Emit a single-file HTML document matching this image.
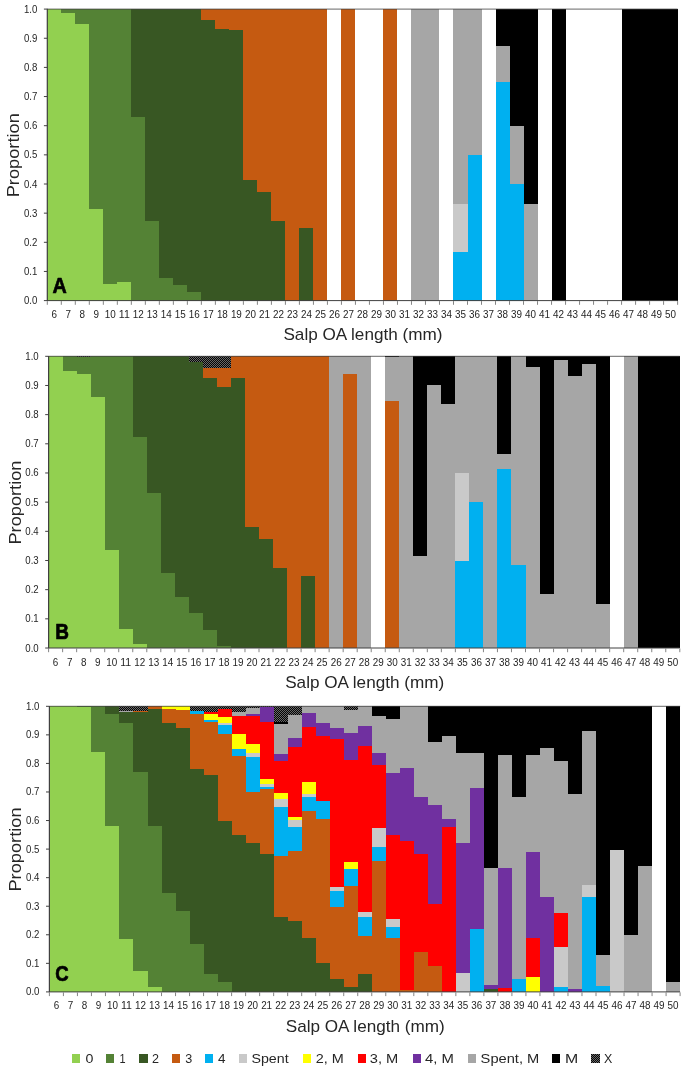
<!DOCTYPE html>
<html><head><meta charset="utf-8"><title>Salp OA length proportions</title>
<style>html,body{margin:0;padding:0;background:#fff}svg{display:block}text{font-family:"Liberation Sans",sans-serif;fill:#262626}</style>
</head><body>
<svg width="685" height="1071" viewBox="0 0 685 1071">
<defs><pattern id="xp" width="2" height="2" patternUnits="userSpaceOnUse"><rect width="2" height="2" fill="#050505"/><rect x="0" y="0" width="1" height="1" fill="#686868"/><rect x="1" y="1" width="1" height="1" fill="#686868"/></pattern></defs>
<rect width="685" height="1071" fill="#fff"/>
<g shape-rendering="crispEdges">
<rect x="47.3" y="9.1" width="14.01" height="291.5" fill="#92D050"/>
<rect x="61.31" y="12.6" width="14.01" height="288" fill="#92D050"/>
<rect x="61.31" y="9.1" width="14.01" height="3.5" fill="#548235"/>
<rect x="75.31" y="23.68" width="14.01" height="276.93" fill="#92D050"/>
<rect x="75.31" y="9.1" width="14.01" height="14.57" fill="#548235"/>
<rect x="89.32" y="209.36" width="14.01" height="91.24" fill="#92D050"/>
<rect x="89.32" y="9.1" width="14.01" height="200.26" fill="#548235"/>
<rect x="103.33" y="283.69" width="14.01" height="16.91" fill="#92D050"/>
<rect x="103.33" y="9.1" width="14.01" height="274.59" fill="#548235"/>
<rect x="117.33" y="281.94" width="14.01" height="18.66" fill="#92D050"/>
<rect x="117.33" y="9.1" width="14.01" height="272.84" fill="#548235"/>
<rect x="131.34" y="116.66" width="14.01" height="183.94" fill="#548235"/>
<rect x="131.34" y="9.1" width="14.01" height="107.56" fill="#385723"/>
<rect x="145.35" y="221.02" width="14.01" height="79.58" fill="#548235"/>
<rect x="145.35" y="9.1" width="14.01" height="211.92" fill="#385723"/>
<rect x="159.35" y="277.86" width="14.01" height="22.74" fill="#548235"/>
<rect x="159.35" y="9.1" width="14.01" height="268.76" fill="#385723"/>
<rect x="173.36" y="285.44" width="14.01" height="15.16" fill="#548235"/>
<rect x="173.36" y="9.1" width="14.01" height="276.34" fill="#385723"/>
<rect x="187.37" y="292.15" width="14.01" height="8.45" fill="#548235"/>
<rect x="187.37" y="9.1" width="14.01" height="283.05" fill="#385723"/>
<rect x="201.37" y="19.89" width="14.01" height="280.71" fill="#385723"/>
<rect x="201.37" y="9.1" width="14.01" height="10.79" fill="#C55A11"/>
<rect x="215.38" y="28.63" width="14.01" height="271.97" fill="#385723"/>
<rect x="215.38" y="9.1" width="14.01" height="19.53" fill="#C55A11"/>
<rect x="229.39" y="29.8" width="14.01" height="270.8" fill="#385723"/>
<rect x="229.39" y="9.1" width="14.01" height="20.7" fill="#C55A11"/>
<rect x="243.39" y="179.63" width="14.01" height="120.97" fill="#385723"/>
<rect x="243.39" y="9.1" width="14.01" height="170.53" fill="#C55A11"/>
<rect x="257.4" y="191.58" width="14.01" height="109.02" fill="#385723"/>
<rect x="257.4" y="9.1" width="14.01" height="182.48" fill="#C55A11"/>
<rect x="271.41" y="221.31" width="14.01" height="79.29" fill="#385723"/>
<rect x="271.41" y="9.1" width="14.01" height="212.21" fill="#C55A11"/>
<rect x="285.41" y="9.1" width="14.01" height="291.5" fill="#C55A11"/>
<rect x="299.42" y="228.02" width="14.01" height="72.58" fill="#385723"/>
<rect x="299.42" y="9.1" width="14.01" height="218.92" fill="#C55A11"/>
<rect x="313.43" y="9.1" width="14.01" height="291.5" fill="#C55A11"/>
<rect x="341.44" y="9.1" width="14.01" height="291.5" fill="#C55A11"/>
<rect x="383.46" y="9.1" width="14.01" height="291.5" fill="#C55A11"/>
<rect x="411.47" y="9.1" width="14.01" height="291.5" fill="#A6A6A6"/>
<rect x="425.48" y="9.1" width="14.01" height="291.5" fill="#A6A6A6"/>
<rect x="453.49" y="252.21" width="14.01" height="48.39" fill="#00B0F0"/>
<rect x="453.49" y="203.82" width="14.01" height="48.39" fill="#C9C9C9"/>
<rect x="453.49" y="9.1" width="14.01" height="194.72" fill="#A6A6A6"/>
<rect x="467.5" y="155.14" width="14.01" height="145.46" fill="#00B0F0"/>
<rect x="467.5" y="9.1" width="14.01" height="146.04" fill="#A6A6A6"/>
<rect x="495.51" y="81.98" width="14.01" height="218.62" fill="#00B0F0"/>
<rect x="495.51" y="45.83" width="14.01" height="36.15" fill="#A6A6A6"/>
<rect x="495.51" y="9.1" width="14.01" height="36.73" fill="#000000"/>
<rect x="509.52" y="184.29" width="14.01" height="116.31" fill="#00B0F0"/>
<rect x="509.52" y="125.99" width="14.01" height="58.3" fill="#A6A6A6"/>
<rect x="509.52" y="9.1" width="14.01" height="116.89" fill="#000000"/>
<rect x="523.53" y="203.82" width="14.01" height="96.78" fill="#A6A6A6"/>
<rect x="523.53" y="9.1" width="14.01" height="194.72" fill="#000000"/>
<rect x="551.54" y="9.1" width="14.01" height="291.5" fill="#000000"/>
<rect x="621.57" y="9.1" width="14.01" height="291.5" fill="#000000"/>
<rect x="635.58" y="9.1" width="14.01" height="291.5" fill="#000000"/>
<rect x="649.59" y="9.1" width="14.01" height="291.5" fill="#000000"/>
<rect x="663.59" y="9.1" width="14.01" height="291.5" fill="#000000"/>
</g>
<g stroke="#404040" stroke-width="1" fill="none">
<line x1="47.3" y1="9.1" x2="677.6" y2="9.1" stroke-width="0.8"/>
<line x1="47.3" y1="8.7" x2="47.3" y2="301" stroke-width="1.2"/>
<line x1="47.3" y1="300.6" x2="677.6" y2="300.6"/>
<line x1="43.9" y1="300.6" x2="47.3" y2="300.6"/>
<line x1="43.9" y1="271.45" x2="47.3" y2="271.45"/>
<line x1="43.9" y1="242.3" x2="47.3" y2="242.3"/>
<line x1="43.9" y1="213.15" x2="47.3" y2="213.15"/>
<line x1="43.9" y1="184" x2="47.3" y2="184"/>
<line x1="43.9" y1="154.85" x2="47.3" y2="154.85"/>
<line x1="43.9" y1="125.7" x2="47.3" y2="125.7"/>
<line x1="43.9" y1="96.55" x2="47.3" y2="96.55"/>
<line x1="43.9" y1="67.4" x2="47.3" y2="67.4"/>
<line x1="43.9" y1="38.25" x2="47.3" y2="38.25"/>
<line x1="43.9" y1="9.1" x2="47.3" y2="9.1"/>
</g>
<g stroke="#767676" stroke-width="0.9">
<line x1="47.3" y1="301.1" x2="47.3" y2="304.8"/>
<line x1="61.31" y1="301.1" x2="61.31" y2="304.8"/>
<line x1="75.31" y1="301.1" x2="75.31" y2="304.8"/>
<line x1="89.32" y1="301.1" x2="89.32" y2="304.8"/>
<line x1="103.33" y1="301.1" x2="103.33" y2="304.8"/>
<line x1="117.33" y1="301.1" x2="117.33" y2="304.8"/>
<line x1="131.34" y1="301.1" x2="131.34" y2="304.8"/>
<line x1="145.35" y1="301.1" x2="145.35" y2="304.8"/>
<line x1="159.35" y1="301.1" x2="159.35" y2="304.8"/>
<line x1="173.36" y1="301.1" x2="173.36" y2="304.8"/>
<line x1="187.37" y1="301.1" x2="187.37" y2="304.8"/>
<line x1="201.37" y1="301.1" x2="201.37" y2="304.8"/>
<line x1="215.38" y1="301.1" x2="215.38" y2="304.8"/>
<line x1="229.39" y1="301.1" x2="229.39" y2="304.8"/>
<line x1="243.39" y1="301.1" x2="243.39" y2="304.8"/>
<line x1="257.4" y1="301.1" x2="257.4" y2="304.8"/>
<line x1="271.41" y1="301.1" x2="271.41" y2="304.8"/>
<line x1="285.41" y1="301.1" x2="285.41" y2="304.8"/>
<line x1="299.42" y1="301.1" x2="299.42" y2="304.8"/>
<line x1="313.43" y1="301.1" x2="313.43" y2="304.8"/>
<line x1="327.43" y1="301.1" x2="327.43" y2="304.8"/>
<line x1="341.44" y1="301.1" x2="341.44" y2="304.8"/>
<line x1="355.45" y1="301.1" x2="355.45" y2="304.8"/>
<line x1="369.45" y1="301.1" x2="369.45" y2="304.8"/>
<line x1="383.46" y1="301.1" x2="383.46" y2="304.8"/>
<line x1="397.47" y1="301.1" x2="397.47" y2="304.8"/>
<line x1="411.47" y1="301.1" x2="411.47" y2="304.8"/>
<line x1="425.48" y1="301.1" x2="425.48" y2="304.8"/>
<line x1="439.49" y1="301.1" x2="439.49" y2="304.8"/>
<line x1="453.49" y1="301.1" x2="453.49" y2="304.8"/>
<line x1="467.5" y1="301.1" x2="467.5" y2="304.8"/>
<line x1="481.51" y1="301.1" x2="481.51" y2="304.8"/>
<line x1="495.51" y1="301.1" x2="495.51" y2="304.8"/>
<line x1="509.52" y1="301.1" x2="509.52" y2="304.8"/>
<line x1="523.53" y1="301.1" x2="523.53" y2="304.8"/>
<line x1="537.53" y1="301.1" x2="537.53" y2="304.8"/>
<line x1="551.54" y1="301.1" x2="551.54" y2="304.8"/>
<line x1="565.55" y1="301.1" x2="565.55" y2="304.8"/>
<line x1="579.55" y1="301.1" x2="579.55" y2="304.8"/>
<line x1="593.56" y1="301.1" x2="593.56" y2="304.8"/>
<line x1="607.57" y1="301.1" x2="607.57" y2="304.8"/>
<line x1="621.57" y1="301.1" x2="621.57" y2="304.8"/>
<line x1="635.58" y1="301.1" x2="635.58" y2="304.8"/>
<line x1="649.59" y1="301.1" x2="649.59" y2="304.8"/>
<line x1="663.59" y1="301.1" x2="663.59" y2="304.8"/>
<line x1="677.6" y1="301.1" x2="677.6" y2="304.8"/>
</g>
<g font-size="10.1" text-anchor="end">
<text x="37.4" y="304.1" textLength="13.4" lengthAdjust="spacingAndGlyphs">0.0</text>
<text x="37.4" y="274.95" textLength="13.4" lengthAdjust="spacingAndGlyphs">0.1</text>
<text x="37.4" y="245.8" textLength="13.4" lengthAdjust="spacingAndGlyphs">0.2</text>
<text x="37.4" y="216.65" textLength="13.4" lengthAdjust="spacingAndGlyphs">0.3</text>
<text x="37.4" y="187.5" textLength="13.4" lengthAdjust="spacingAndGlyphs">0.4</text>
<text x="37.4" y="158.35" textLength="13.4" lengthAdjust="spacingAndGlyphs">0.5</text>
<text x="37.4" y="129.2" textLength="13.4" lengthAdjust="spacingAndGlyphs">0.6</text>
<text x="37.4" y="100.05" textLength="13.4" lengthAdjust="spacingAndGlyphs">0.7</text>
<text x="37.4" y="70.9" textLength="13.4" lengthAdjust="spacingAndGlyphs">0.8</text>
<text x="37.4" y="41.75" textLength="13.4" lengthAdjust="spacingAndGlyphs">0.9</text>
<text x="37.4" y="12.6" textLength="13.4" lengthAdjust="spacingAndGlyphs">1.0</text>
</g>
<g font-size="10.1" text-anchor="middle">
<text x="54.3" y="318.1" textLength="5.5" lengthAdjust="spacingAndGlyphs">6</text>
<text x="68.31" y="318.1" textLength="5.5" lengthAdjust="spacingAndGlyphs">7</text>
<text x="82.32" y="318.1" textLength="5.5" lengthAdjust="spacingAndGlyphs">8</text>
<text x="96.32" y="318.1" textLength="5.5" lengthAdjust="spacingAndGlyphs">9</text>
<text x="110.33" y="318.1" textLength="11" lengthAdjust="spacingAndGlyphs">10</text>
<text x="124.34" y="318.1" textLength="11" lengthAdjust="spacingAndGlyphs">11</text>
<text x="138.34" y="318.1" textLength="11" lengthAdjust="spacingAndGlyphs">12</text>
<text x="152.35" y="318.1" textLength="11" lengthAdjust="spacingAndGlyphs">13</text>
<text x="166.36" y="318.1" textLength="11" lengthAdjust="spacingAndGlyphs">14</text>
<text x="180.36" y="318.1" textLength="11" lengthAdjust="spacingAndGlyphs">15</text>
<text x="194.37" y="318.1" textLength="11" lengthAdjust="spacingAndGlyphs">16</text>
<text x="208.38" y="318.1" textLength="11" lengthAdjust="spacingAndGlyphs">17</text>
<text x="222.38" y="318.1" textLength="11" lengthAdjust="spacingAndGlyphs">18</text>
<text x="236.39" y="318.1" textLength="11" lengthAdjust="spacingAndGlyphs">19</text>
<text x="250.4" y="318.1" textLength="11" lengthAdjust="spacingAndGlyphs">20</text>
<text x="264.4" y="318.1" textLength="11" lengthAdjust="spacingAndGlyphs">21</text>
<text x="278.41" y="318.1" textLength="11" lengthAdjust="spacingAndGlyphs">22</text>
<text x="292.42" y="318.1" textLength="11" lengthAdjust="spacingAndGlyphs">23</text>
<text x="306.42" y="318.1" textLength="11" lengthAdjust="spacingAndGlyphs">24</text>
<text x="320.43" y="318.1" textLength="11" lengthAdjust="spacingAndGlyphs">25</text>
<text x="334.44" y="318.1" textLength="11" lengthAdjust="spacingAndGlyphs">26</text>
<text x="348.44" y="318.1" textLength="11" lengthAdjust="spacingAndGlyphs">27</text>
<text x="362.45" y="318.1" textLength="11" lengthAdjust="spacingAndGlyphs">28</text>
<text x="376.46" y="318.1" textLength="11" lengthAdjust="spacingAndGlyphs">29</text>
<text x="390.46" y="318.1" textLength="11" lengthAdjust="spacingAndGlyphs">30</text>
<text x="404.47" y="318.1" textLength="11" lengthAdjust="spacingAndGlyphs">31</text>
<text x="418.48" y="318.1" textLength="11" lengthAdjust="spacingAndGlyphs">32</text>
<text x="432.48" y="318.1" textLength="11" lengthAdjust="spacingAndGlyphs">33</text>
<text x="446.49" y="318.1" textLength="11" lengthAdjust="spacingAndGlyphs">34</text>
<text x="460.5" y="318.1" textLength="11" lengthAdjust="spacingAndGlyphs">35</text>
<text x="474.5" y="318.1" textLength="11" lengthAdjust="spacingAndGlyphs">36</text>
<text x="488.51" y="318.1" textLength="11" lengthAdjust="spacingAndGlyphs">37</text>
<text x="502.52" y="318.1" textLength="11" lengthAdjust="spacingAndGlyphs">38</text>
<text x="516.52" y="318.1" textLength="11" lengthAdjust="spacingAndGlyphs">39</text>
<text x="530.53" y="318.1" textLength="11" lengthAdjust="spacingAndGlyphs">40</text>
<text x="544.54" y="318.1" textLength="11" lengthAdjust="spacingAndGlyphs">41</text>
<text x="558.54" y="318.1" textLength="11" lengthAdjust="spacingAndGlyphs">42</text>
<text x="572.55" y="318.1" textLength="11" lengthAdjust="spacingAndGlyphs">43</text>
<text x="586.56" y="318.1" textLength="11" lengthAdjust="spacingAndGlyphs">44</text>
<text x="600.56" y="318.1" textLength="11" lengthAdjust="spacingAndGlyphs">45</text>
<text x="614.57" y="318.1" textLength="11" lengthAdjust="spacingAndGlyphs">46</text>
<text x="628.58" y="318.1" textLength="11" lengthAdjust="spacingAndGlyphs">47</text>
<text x="642.58" y="318.1" textLength="11" lengthAdjust="spacingAndGlyphs">48</text>
<text x="656.59" y="318.1" textLength="11" lengthAdjust="spacingAndGlyphs">49</text>
<text x="670.6" y="318.1" textLength="11" lengthAdjust="spacingAndGlyphs">50</text>
</g>
<text x="362.95" y="340.3" font-size="16.6" text-anchor="middle" textLength="159" lengthAdjust="spacingAndGlyphs">Salp OA length (mm)</text>
<text transform="translate(19.2,155.25) rotate(-90)" font-size="16.8" text-anchor="middle" textLength="84.1" lengthAdjust="spacingAndGlyphs">Proportion</text>
<text x="52.6" y="293" font-size="21.5" font-weight="bold" style="fill:#000;stroke:#000;stroke-width:0.7;stroke-linejoin:round" textLength="14.3" lengthAdjust="spacingAndGlyphs">A</text>
<g shape-rendering="crispEdges">
<rect x="48.6" y="356.3" width="14.03" height="291.7" fill="#92D050"/>
<rect x="62.63" y="371.18" width="14.03" height="276.82" fill="#92D050"/>
<rect x="62.63" y="356.3" width="14.03" height="14.88" fill="#548235"/>
<rect x="76.65" y="373.8" width="14.03" height="274.2" fill="#92D050"/>
<rect x="76.65" y="357.18" width="14.03" height="16.63" fill="#548235"/>
<rect x="76.65" y="356.3" width="14.03" height="0.88" fill="url(#xp)"/>
<rect x="90.68" y="397.14" width="14.03" height="250.86" fill="#92D050"/>
<rect x="90.68" y="356.3" width="14.03" height="40.84" fill="#548235"/>
<rect x="104.71" y="549.7" width="14.03" height="98.3" fill="#92D050"/>
<rect x="104.71" y="356.3" width="14.03" height="193.4" fill="#548235"/>
<rect x="118.73" y="628.75" width="14.03" height="19.25" fill="#92D050"/>
<rect x="118.73" y="356.3" width="14.03" height="272.45" fill="#548235"/>
<rect x="132.76" y="643.92" width="14.03" height="4.08" fill="#92D050"/>
<rect x="132.76" y="437.1" width="14.03" height="206.82" fill="#548235"/>
<rect x="132.76" y="356.3" width="14.03" height="80.8" fill="#385723"/>
<rect x="146.79" y="492.82" width="14.03" height="155.18" fill="#548235"/>
<rect x="146.79" y="356.3" width="14.03" height="136.52" fill="#385723"/>
<rect x="160.81" y="573.03" width="14.03" height="74.97" fill="#548235"/>
<rect x="160.81" y="356.3" width="14.03" height="216.73" fill="#385723"/>
<rect x="174.84" y="596.95" width="14.03" height="51.05" fill="#548235"/>
<rect x="174.84" y="356.3" width="14.03" height="240.65" fill="#385723"/>
<rect x="188.87" y="613" width="14.03" height="35" fill="#548235"/>
<rect x="188.87" y="362.13" width="14.03" height="250.86" fill="#385723"/>
<rect x="188.87" y="356.3" width="14.03" height="5.83" fill="url(#xp)"/>
<rect x="202.89" y="629.91" width="14.03" height="18.09" fill="#548235"/>
<rect x="202.89" y="377.59" width="14.03" height="252.32" fill="#385723"/>
<rect x="202.89" y="367.68" width="14.03" height="9.92" fill="#C55A11"/>
<rect x="202.89" y="356.3" width="14.03" height="11.38" fill="url(#xp)"/>
<rect x="216.92" y="646.25" width="14.03" height="1.75" fill="#548235"/>
<rect x="216.92" y="386.93" width="14.03" height="259.32" fill="#385723"/>
<rect x="216.92" y="367.68" width="14.03" height="19.25" fill="#C55A11"/>
<rect x="216.92" y="356.3" width="14.03" height="11.38" fill="url(#xp)"/>
<rect x="230.95" y="377.59" width="14.03" height="270.41" fill="#385723"/>
<rect x="230.95" y="356.3" width="14.03" height="21.29" fill="#C55A11"/>
<rect x="244.97" y="526.65" width="14.03" height="121.35" fill="#385723"/>
<rect x="244.97" y="356.3" width="14.03" height="170.35" fill="#C55A11"/>
<rect x="259" y="538.9" width="14.03" height="109.1" fill="#385723"/>
<rect x="259" y="356.3" width="14.03" height="182.6" fill="#C55A11"/>
<rect x="273.03" y="568.37" width="14.03" height="79.63" fill="#385723"/>
<rect x="273.03" y="356.3" width="14.03" height="212.07" fill="#C55A11"/>
<rect x="287.05" y="356.3" width="14.03" height="291.7" fill="#C55A11"/>
<rect x="301.08" y="575.95" width="14.03" height="72.05" fill="#385723"/>
<rect x="301.08" y="356.3" width="14.03" height="219.65" fill="#C55A11"/>
<rect x="315.11" y="356.3" width="14.03" height="291.7" fill="#C55A11"/>
<rect x="329.13" y="356.3" width="14.03" height="291.7" fill="#A6A6A6"/>
<rect x="343.16" y="373.8" width="14.03" height="274.2" fill="#C55A11"/>
<rect x="343.16" y="356.3" width="14.03" height="17.5" fill="#A6A6A6"/>
<rect x="357.19" y="356.3" width="14.03" height="291.7" fill="#A6A6A6"/>
<rect x="385.24" y="400.64" width="14.03" height="247.36" fill="#C55A11"/>
<rect x="385.24" y="357.47" width="14.03" height="43.17" fill="#A6A6A6"/>
<rect x="385.24" y="356.3" width="14.03" height="1.17" fill="#000000"/>
<rect x="399.27" y="356.3" width="14.03" height="291.7" fill="#A6A6A6"/>
<rect x="413.29" y="555.53" width="14.03" height="92.47" fill="#A6A6A6"/>
<rect x="413.29" y="356.3" width="14.03" height="199.23" fill="#000000"/>
<rect x="427.32" y="385.47" width="14.03" height="262.53" fill="#A6A6A6"/>
<rect x="427.32" y="356.3" width="14.03" height="29.17" fill="#000000"/>
<rect x="441.35" y="404.43" width="14.03" height="243.57" fill="#A6A6A6"/>
<rect x="441.35" y="356.3" width="14.03" height="48.13" fill="#000000"/>
<rect x="455.37" y="560.93" width="14.03" height="87.07" fill="#00B0F0"/>
<rect x="455.37" y="472.98" width="14.03" height="87.95" fill="#C9C9C9"/>
<rect x="455.37" y="356.3" width="14.03" height="116.68" fill="#A6A6A6"/>
<rect x="469.4" y="502.24" width="14.03" height="145.76" fill="#00B0F0"/>
<rect x="469.4" y="356.3" width="14.03" height="145.94" fill="#A6A6A6"/>
<rect x="483.43" y="356.3" width="14.03" height="291.7" fill="#A6A6A6"/>
<rect x="497.45" y="469.48" width="14.03" height="178.52" fill="#00B0F0"/>
<rect x="497.45" y="454.31" width="14.03" height="15.17" fill="#A6A6A6"/>
<rect x="497.45" y="356.3" width="14.03" height="98.01" fill="#000000"/>
<rect x="511.48" y="564.57" width="14.03" height="83.43" fill="#00B0F0"/>
<rect x="511.48" y="356.3" width="14.03" height="208.27" fill="#A6A6A6"/>
<rect x="525.51" y="366.51" width="14.03" height="281.49" fill="#A6A6A6"/>
<rect x="525.51" y="356.3" width="14.03" height="10.21" fill="#000000"/>
<rect x="539.53" y="593.74" width="14.03" height="54.26" fill="#A6A6A6"/>
<rect x="539.53" y="356.3" width="14.03" height="237.44" fill="#000000"/>
<rect x="553.56" y="360.38" width="14.03" height="287.62" fill="#A6A6A6"/>
<rect x="553.56" y="356.3" width="14.03" height="4.08" fill="#000000"/>
<rect x="567.59" y="376.14" width="14.03" height="271.86" fill="#A6A6A6"/>
<rect x="567.59" y="356.3" width="14.03" height="19.84" fill="#000000"/>
<rect x="581.61" y="364.18" width="14.03" height="283.82" fill="#A6A6A6"/>
<rect x="581.61" y="356.3" width="14.03" height="7.88" fill="#000000"/>
<rect x="595.64" y="603.66" width="14.03" height="44.34" fill="#A6A6A6"/>
<rect x="595.64" y="356.3" width="14.03" height="247.36" fill="#000000"/>
<rect x="623.69" y="356.3" width="14.03" height="291.7" fill="#A6A6A6"/>
<rect x="637.72" y="356.3" width="14.03" height="291.7" fill="#000000"/>
<rect x="651.75" y="356.3" width="14.03" height="291.7" fill="#000000"/>
<rect x="665.77" y="356.3" width="14.03" height="291.7" fill="#000000"/>
</g>
<g stroke="#404040" stroke-width="1" fill="none">
<line x1="48.6" y1="356.3" x2="679.8" y2="356.3" stroke-width="0.8"/>
<line x1="48.6" y1="355.9" x2="48.6" y2="648.4" stroke-width="1.2"/>
<line x1="48.6" y1="648" x2="679.8" y2="648"/>
<line x1="45.2" y1="648" x2="48.6" y2="648"/>
<line x1="45.2" y1="618.83" x2="48.6" y2="618.83"/>
<line x1="45.2" y1="589.66" x2="48.6" y2="589.66"/>
<line x1="45.2" y1="560.49" x2="48.6" y2="560.49"/>
<line x1="45.2" y1="531.32" x2="48.6" y2="531.32"/>
<line x1="45.2" y1="502.15" x2="48.6" y2="502.15"/>
<line x1="45.2" y1="472.98" x2="48.6" y2="472.98"/>
<line x1="45.2" y1="443.81" x2="48.6" y2="443.81"/>
<line x1="45.2" y1="414.64" x2="48.6" y2="414.64"/>
<line x1="45.2" y1="385.47" x2="48.6" y2="385.47"/>
<line x1="45.2" y1="356.3" x2="48.6" y2="356.3"/>
</g>
<g stroke="#767676" stroke-width="0.9">
<line x1="48.6" y1="648.5" x2="48.6" y2="652.2"/>
<line x1="62.63" y1="648.5" x2="62.63" y2="652.2"/>
<line x1="76.65" y1="648.5" x2="76.65" y2="652.2"/>
<line x1="90.68" y1="648.5" x2="90.68" y2="652.2"/>
<line x1="104.71" y1="648.5" x2="104.71" y2="652.2"/>
<line x1="118.73" y1="648.5" x2="118.73" y2="652.2"/>
<line x1="132.76" y1="648.5" x2="132.76" y2="652.2"/>
<line x1="146.79" y1="648.5" x2="146.79" y2="652.2"/>
<line x1="160.81" y1="648.5" x2="160.81" y2="652.2"/>
<line x1="174.84" y1="648.5" x2="174.84" y2="652.2"/>
<line x1="188.87" y1="648.5" x2="188.87" y2="652.2"/>
<line x1="202.89" y1="648.5" x2="202.89" y2="652.2"/>
<line x1="216.92" y1="648.5" x2="216.92" y2="652.2"/>
<line x1="230.95" y1="648.5" x2="230.95" y2="652.2"/>
<line x1="244.97" y1="648.5" x2="244.97" y2="652.2"/>
<line x1="259" y1="648.5" x2="259" y2="652.2"/>
<line x1="273.03" y1="648.5" x2="273.03" y2="652.2"/>
<line x1="287.05" y1="648.5" x2="287.05" y2="652.2"/>
<line x1="301.08" y1="648.5" x2="301.08" y2="652.2"/>
<line x1="315.11" y1="648.5" x2="315.11" y2="652.2"/>
<line x1="329.13" y1="648.5" x2="329.13" y2="652.2"/>
<line x1="343.16" y1="648.5" x2="343.16" y2="652.2"/>
<line x1="357.19" y1="648.5" x2="357.19" y2="652.2"/>
<line x1="371.21" y1="648.5" x2="371.21" y2="652.2"/>
<line x1="385.24" y1="648.5" x2="385.24" y2="652.2"/>
<line x1="399.27" y1="648.5" x2="399.27" y2="652.2"/>
<line x1="413.29" y1="648.5" x2="413.29" y2="652.2"/>
<line x1="427.32" y1="648.5" x2="427.32" y2="652.2"/>
<line x1="441.35" y1="648.5" x2="441.35" y2="652.2"/>
<line x1="455.37" y1="648.5" x2="455.37" y2="652.2"/>
<line x1="469.4" y1="648.5" x2="469.4" y2="652.2"/>
<line x1="483.43" y1="648.5" x2="483.43" y2="652.2"/>
<line x1="497.45" y1="648.5" x2="497.45" y2="652.2"/>
<line x1="511.48" y1="648.5" x2="511.48" y2="652.2"/>
<line x1="525.51" y1="648.5" x2="525.51" y2="652.2"/>
<line x1="539.53" y1="648.5" x2="539.53" y2="652.2"/>
<line x1="553.56" y1="648.5" x2="553.56" y2="652.2"/>
<line x1="567.59" y1="648.5" x2="567.59" y2="652.2"/>
<line x1="581.61" y1="648.5" x2="581.61" y2="652.2"/>
<line x1="595.64" y1="648.5" x2="595.64" y2="652.2"/>
<line x1="609.67" y1="648.5" x2="609.67" y2="652.2"/>
<line x1="623.69" y1="648.5" x2="623.69" y2="652.2"/>
<line x1="637.72" y1="648.5" x2="637.72" y2="652.2"/>
<line x1="651.75" y1="648.5" x2="651.75" y2="652.2"/>
<line x1="665.77" y1="648.5" x2="665.77" y2="652.2"/>
<line x1="679.8" y1="648.5" x2="679.8" y2="652.2"/>
</g>
<g font-size="10.1" text-anchor="end">
<text x="38.7" y="651.5" textLength="13.4" lengthAdjust="spacingAndGlyphs">0.0</text>
<text x="38.7" y="622.33" textLength="13.4" lengthAdjust="spacingAndGlyphs">0.1</text>
<text x="38.7" y="593.16" textLength="13.4" lengthAdjust="spacingAndGlyphs">0.2</text>
<text x="38.7" y="563.99" textLength="13.4" lengthAdjust="spacingAndGlyphs">0.3</text>
<text x="38.7" y="534.82" textLength="13.4" lengthAdjust="spacingAndGlyphs">0.4</text>
<text x="38.7" y="505.65" textLength="13.4" lengthAdjust="spacingAndGlyphs">0.5</text>
<text x="38.7" y="476.48" textLength="13.4" lengthAdjust="spacingAndGlyphs">0.6</text>
<text x="38.7" y="447.31" textLength="13.4" lengthAdjust="spacingAndGlyphs">0.7</text>
<text x="38.7" y="418.14" textLength="13.4" lengthAdjust="spacingAndGlyphs">0.8</text>
<text x="38.7" y="388.97" textLength="13.4" lengthAdjust="spacingAndGlyphs">0.9</text>
<text x="38.7" y="359.8" textLength="13.4" lengthAdjust="spacingAndGlyphs">1.0</text>
</g>
<g font-size="10.1" text-anchor="middle">
<text x="55.61" y="665.5" textLength="5.5" lengthAdjust="spacingAndGlyphs">6</text>
<text x="69.64" y="665.5" textLength="5.5" lengthAdjust="spacingAndGlyphs">7</text>
<text x="83.67" y="665.5" textLength="5.5" lengthAdjust="spacingAndGlyphs">8</text>
<text x="97.69" y="665.5" textLength="5.5" lengthAdjust="spacingAndGlyphs">9</text>
<text x="111.72" y="665.5" textLength="11" lengthAdjust="spacingAndGlyphs">10</text>
<text x="125.75" y="665.5" textLength="11" lengthAdjust="spacingAndGlyphs">11</text>
<text x="139.77" y="665.5" textLength="11" lengthAdjust="spacingAndGlyphs">12</text>
<text x="153.8" y="665.5" textLength="11" lengthAdjust="spacingAndGlyphs">13</text>
<text x="167.83" y="665.5" textLength="11" lengthAdjust="spacingAndGlyphs">14</text>
<text x="181.85" y="665.5" textLength="11" lengthAdjust="spacingAndGlyphs">15</text>
<text x="195.88" y="665.5" textLength="11" lengthAdjust="spacingAndGlyphs">16</text>
<text x="209.91" y="665.5" textLength="11" lengthAdjust="spacingAndGlyphs">17</text>
<text x="223.93" y="665.5" textLength="11" lengthAdjust="spacingAndGlyphs">18</text>
<text x="237.96" y="665.5" textLength="11" lengthAdjust="spacingAndGlyphs">19</text>
<text x="251.99" y="665.5" textLength="11" lengthAdjust="spacingAndGlyphs">20</text>
<text x="266.01" y="665.5" textLength="11" lengthAdjust="spacingAndGlyphs">21</text>
<text x="280.04" y="665.5" textLength="11" lengthAdjust="spacingAndGlyphs">22</text>
<text x="294.07" y="665.5" textLength="11" lengthAdjust="spacingAndGlyphs">23</text>
<text x="308.09" y="665.5" textLength="11" lengthAdjust="spacingAndGlyphs">24</text>
<text x="322.12" y="665.5" textLength="11" lengthAdjust="spacingAndGlyphs">25</text>
<text x="336.15" y="665.5" textLength="11" lengthAdjust="spacingAndGlyphs">26</text>
<text x="350.17" y="665.5" textLength="11" lengthAdjust="spacingAndGlyphs">27</text>
<text x="364.2" y="665.5" textLength="11" lengthAdjust="spacingAndGlyphs">28</text>
<text x="378.23" y="665.5" textLength="11" lengthAdjust="spacingAndGlyphs">29</text>
<text x="392.25" y="665.5" textLength="11" lengthAdjust="spacingAndGlyphs">30</text>
<text x="406.28" y="665.5" textLength="11" lengthAdjust="spacingAndGlyphs">31</text>
<text x="420.31" y="665.5" textLength="11" lengthAdjust="spacingAndGlyphs">32</text>
<text x="434.33" y="665.5" textLength="11" lengthAdjust="spacingAndGlyphs">33</text>
<text x="448.36" y="665.5" textLength="11" lengthAdjust="spacingAndGlyphs">34</text>
<text x="462.39" y="665.5" textLength="11" lengthAdjust="spacingAndGlyphs">35</text>
<text x="476.41" y="665.5" textLength="11" lengthAdjust="spacingAndGlyphs">36</text>
<text x="490.44" y="665.5" textLength="11" lengthAdjust="spacingAndGlyphs">37</text>
<text x="504.47" y="665.5" textLength="11" lengthAdjust="spacingAndGlyphs">38</text>
<text x="518.49" y="665.5" textLength="11" lengthAdjust="spacingAndGlyphs">39</text>
<text x="532.52" y="665.5" textLength="11" lengthAdjust="spacingAndGlyphs">40</text>
<text x="546.55" y="665.5" textLength="11" lengthAdjust="spacingAndGlyphs">41</text>
<text x="560.57" y="665.5" textLength="11" lengthAdjust="spacingAndGlyphs">42</text>
<text x="574.6" y="665.5" textLength="11" lengthAdjust="spacingAndGlyphs">43</text>
<text x="588.63" y="665.5" textLength="11" lengthAdjust="spacingAndGlyphs">44</text>
<text x="602.65" y="665.5" textLength="11" lengthAdjust="spacingAndGlyphs">45</text>
<text x="616.68" y="665.5" textLength="11" lengthAdjust="spacingAndGlyphs">46</text>
<text x="630.71" y="665.5" textLength="11" lengthAdjust="spacingAndGlyphs">47</text>
<text x="644.73" y="665.5" textLength="11" lengthAdjust="spacingAndGlyphs">48</text>
<text x="658.76" y="665.5" textLength="11" lengthAdjust="spacingAndGlyphs">49</text>
<text x="672.79" y="665.5" textLength="11" lengthAdjust="spacingAndGlyphs">50</text>
</g>
<text x="364.7" y="687.7" font-size="16.6" text-anchor="middle" textLength="159" lengthAdjust="spacingAndGlyphs">Salp OA length (mm)</text>
<text transform="translate(20.5,502.55) rotate(-90)" font-size="16.8" text-anchor="middle" textLength="84.1" lengthAdjust="spacingAndGlyphs">Proportion</text>
<text x="55.3" y="639.4" font-size="21.5" font-weight="bold" style="fill:#000;stroke:#000;stroke-width:0.7;stroke-linejoin:round" textLength="13.7" lengthAdjust="spacingAndGlyphs">B</text>
<g shape-rendering="crispEdges">
<rect x="49.4" y="706.3" width="14.02" height="285.6" fill="#92D050"/>
<rect x="63.42" y="706.3" width="14.02" height="285.6" fill="#92D050"/>
<rect x="77.43" y="707.16" width="14.02" height="284.74" fill="#92D050"/>
<rect x="77.43" y="706.3" width="14.02" height="0.86" fill="#548235"/>
<rect x="91.45" y="752.28" width="14.02" height="239.62" fill="#92D050"/>
<rect x="91.45" y="706.3" width="14.02" height="45.98" fill="#548235"/>
<rect x="105.46" y="825.82" width="14.02" height="166.08" fill="#92D050"/>
<rect x="105.46" y="713.73" width="14.02" height="112.1" fill="#548235"/>
<rect x="105.46" y="706.3" width="14.02" height="7.43" fill="#385723"/>
<rect x="119.48" y="938.78" width="14.02" height="53.12" fill="#92D050"/>
<rect x="119.48" y="723.44" width="14.02" height="215.34" fill="#548235"/>
<rect x="119.48" y="712.3" width="14.02" height="11.14" fill="#385723"/>
<rect x="119.48" y="710.58" width="14.02" height="1.71" fill="#A6A6A6"/>
<rect x="119.48" y="706.3" width="14.02" height="4.28" fill="url(#xp)"/>
<rect x="133.49" y="970.77" width="14.02" height="21.13" fill="#92D050"/>
<rect x="133.49" y="772.27" width="14.02" height="198.49" fill="#548235"/>
<rect x="133.49" y="712.3" width="14.02" height="59.98" fill="#385723"/>
<rect x="133.49" y="710.58" width="14.02" height="1.71" fill="#C55A11"/>
<rect x="133.49" y="706.3" width="14.02" height="4.28" fill="url(#xp)"/>
<rect x="147.51" y="987.44" width="14.02" height="4.46" fill="#92D050"/>
<rect x="147.51" y="825.82" width="14.02" height="161.62" fill="#548235"/>
<rect x="147.51" y="709.16" width="14.02" height="116.67" fill="#385723"/>
<rect x="147.51" y="706.3" width="14.02" height="2.86" fill="#C55A11"/>
<rect x="161.52" y="892.51" width="14.02" height="99.39" fill="#548235"/>
<rect x="161.52" y="723.44" width="14.02" height="169.08" fill="#385723"/>
<rect x="161.52" y="709.44" width="14.02" height="13.99" fill="#C55A11"/>
<rect x="161.52" y="706.3" width="14.02" height="3.14" fill="#FFFF00"/>
<rect x="175.54" y="910.93" width="14.02" height="80.97" fill="#548235"/>
<rect x="175.54" y="728.29" width="14.02" height="182.64" fill="#385723"/>
<rect x="175.54" y="709.73" width="14.02" height="18.56" fill="#C55A11"/>
<rect x="175.54" y="706.3" width="14.02" height="3.43" fill="#FFFF00"/>
<rect x="189.56" y="944.49" width="14.02" height="47.41" fill="#548235"/>
<rect x="189.56" y="769.42" width="14.02" height="175.07" fill="#385723"/>
<rect x="189.56" y="714.3" width="14.02" height="55.12" fill="#C55A11"/>
<rect x="189.56" y="711.16" width="14.02" height="3.14" fill="#00B0F0"/>
<rect x="189.56" y="706.3" width="14.02" height="4.86" fill="url(#xp)"/>
<rect x="203.57" y="974.28" width="14.02" height="17.62" fill="#548235"/>
<rect x="203.57" y="775.42" width="14.02" height="198.86" fill="#385723"/>
<rect x="203.57" y="722.01" width="14.02" height="53.41" fill="#C55A11"/>
<rect x="203.57" y="719.72" width="14.02" height="2.28" fill="#00B0F0"/>
<rect x="203.57" y="714.3" width="14.02" height="5.43" fill="#FFFF00"/>
<rect x="203.57" y="712.44" width="14.02" height="1.86" fill="#FF0000"/>
<rect x="203.57" y="706.3" width="14.02" height="6.14" fill="url(#xp)"/>
<rect x="217.59" y="981.62" width="14.02" height="10.28" fill="#548235"/>
<rect x="217.59" y="821.11" width="14.02" height="160.51" fill="#385723"/>
<rect x="217.59" y="733.72" width="14.02" height="87.39" fill="#C55A11"/>
<rect x="217.59" y="725.44" width="14.02" height="8.28" fill="#00B0F0"/>
<rect x="217.59" y="722.75" width="14.02" height="2.68" fill="#C9C9C9"/>
<rect x="217.59" y="716.75" width="14.02" height="6" fill="#FFFF00"/>
<rect x="217.59" y="708.98" width="14.02" height="7.77" fill="#FF0000"/>
<rect x="217.59" y="706.3" width="14.02" height="2.68" fill="url(#xp)"/>
<rect x="231.6" y="835.39" width="14.02" height="156.51" fill="#385723"/>
<rect x="231.6" y="755.71" width="14.02" height="79.68" fill="#C55A11"/>
<rect x="231.6" y="748.57" width="14.02" height="7.14" fill="#00B0F0"/>
<rect x="231.6" y="733.72" width="14.02" height="14.85" fill="#FFFF00"/>
<rect x="231.6" y="716.15" width="14.02" height="17.56" fill="#FF0000"/>
<rect x="231.6" y="711.73" width="14.02" height="4.43" fill="#A6A6A6"/>
<rect x="231.6" y="706.3" width="14.02" height="5.43" fill="url(#xp)"/>
<rect x="245.62" y="842.82" width="14.02" height="149.08" fill="#385723"/>
<rect x="245.62" y="791.98" width="14.02" height="50.84" fill="#C55A11"/>
<rect x="245.62" y="757.14" width="14.02" height="34.84" fill="#00B0F0"/>
<rect x="245.62" y="753.14" width="14.02" height="4" fill="#C9C9C9"/>
<rect x="245.62" y="744.11" width="14.02" height="9.02" fill="#FFFF00"/>
<rect x="245.62" y="716.15" width="14.02" height="27.96" fill="#FF0000"/>
<rect x="245.62" y="713.73" width="14.02" height="2.43" fill="#7030A0"/>
<rect x="245.62" y="707.73" width="14.02" height="6" fill="#A6A6A6"/>
<rect x="245.62" y="706.3" width="14.02" height="1.43" fill="url(#xp)"/>
<rect x="259.63" y="853.96" width="14.02" height="137.94" fill="#385723"/>
<rect x="259.63" y="789.41" width="14.02" height="64.55" fill="#C55A11"/>
<rect x="259.63" y="787.41" width="14.02" height="2" fill="#00B0F0"/>
<rect x="259.63" y="783.98" width="14.02" height="3.43" fill="#C9C9C9"/>
<rect x="259.63" y="778.56" width="14.02" height="5.43" fill="#FFFF00"/>
<rect x="259.63" y="721.72" width="14.02" height="56.83" fill="#FF0000"/>
<rect x="259.63" y="707.44" width="14.02" height="14.28" fill="#7030A0"/>
<rect x="259.63" y="706.3" width="14.02" height="1.14" fill="url(#xp)"/>
<rect x="273.65" y="916.5" width="14.02" height="75.4" fill="#385723"/>
<rect x="273.65" y="856.24" width="14.02" height="60.26" fill="#C55A11"/>
<rect x="273.65" y="806.83" width="14.02" height="49.41" fill="#00B0F0"/>
<rect x="273.65" y="799.41" width="14.02" height="7.43" fill="#C9C9C9"/>
<rect x="273.65" y="792.98" width="14.02" height="6.43" fill="#FFFF00"/>
<rect x="273.65" y="760.99" width="14.02" height="31.99" fill="#FF0000"/>
<rect x="273.65" y="753.82" width="14.02" height="7.17" fill="#7030A0"/>
<rect x="273.65" y="724.01" width="14.02" height="29.82" fill="#A6A6A6"/>
<rect x="273.65" y="722.01" width="14.02" height="2" fill="#000000"/>
<rect x="273.65" y="706.3" width="14.02" height="15.71" fill="url(#xp)"/>
<rect x="287.66" y="921.16" width="14.02" height="70.74" fill="#385723"/>
<rect x="287.66" y="851.27" width="14.02" height="69.89" fill="#C55A11"/>
<rect x="287.66" y="827.39" width="14.02" height="23.88" fill="#00B0F0"/>
<rect x="287.66" y="819.97" width="14.02" height="7.43" fill="#C9C9C9"/>
<rect x="287.66" y="817.4" width="14.02" height="2.57" fill="#FFFF00"/>
<rect x="287.66" y="747.14" width="14.02" height="70.26" fill="#FF0000"/>
<rect x="287.66" y="738.14" width="14.02" height="9" fill="#7030A0"/>
<rect x="287.66" y="714.87" width="14.02" height="23.28" fill="#A6A6A6"/>
<rect x="287.66" y="706.3" width="14.02" height="8.57" fill="url(#xp)"/>
<rect x="301.68" y="937.78" width="14.02" height="54.12" fill="#385723"/>
<rect x="301.68" y="810.83" width="14.02" height="126.95" fill="#C55A11"/>
<rect x="301.68" y="796.84" width="14.02" height="13.99" fill="#00B0F0"/>
<rect x="301.68" y="793.98" width="14.02" height="2.86" fill="#C9C9C9"/>
<rect x="301.68" y="782.27" width="14.02" height="11.71" fill="#FFFF00"/>
<rect x="301.68" y="726.86" width="14.02" height="55.41" fill="#FF0000"/>
<rect x="301.68" y="713.15" width="14.02" height="13.71" fill="#7030A0"/>
<rect x="301.68" y="706.3" width="14.02" height="6.85" fill="#A6A6A6"/>
<rect x="315.7" y="962.6" width="14.02" height="29.3" fill="#385723"/>
<rect x="315.7" y="818.83" width="14.02" height="143.77" fill="#C55A11"/>
<rect x="315.7" y="800.55" width="14.02" height="18.28" fill="#00B0F0"/>
<rect x="315.7" y="736" width="14.02" height="64.55" fill="#FF0000"/>
<rect x="315.7" y="722.86" width="14.02" height="13.14" fill="#7030A0"/>
<rect x="315.7" y="706.3" width="14.02" height="16.56" fill="#A6A6A6"/>
<rect x="329.71" y="978.76" width="14.02" height="13.14" fill="#385723"/>
<rect x="329.71" y="906.51" width="14.02" height="72.26" fill="#C55A11"/>
<rect x="329.71" y="891.08" width="14.02" height="15.42" fill="#00B0F0"/>
<rect x="329.71" y="887.37" width="14.02" height="3.71" fill="#C9C9C9"/>
<rect x="329.71" y="739.43" width="14.02" height="147.94" fill="#FF0000"/>
<rect x="329.71" y="727.72" width="14.02" height="11.71" fill="#7030A0"/>
<rect x="329.71" y="706.3" width="14.02" height="21.42" fill="#A6A6A6"/>
<rect x="343.73" y="986.56" width="14.02" height="5.34" fill="#385723"/>
<rect x="343.73" y="886.09" width="14.02" height="100.47" fill="#C55A11"/>
<rect x="343.73" y="869.09" width="14.02" height="16.99" fill="#00B0F0"/>
<rect x="343.73" y="861.95" width="14.02" height="7.14" fill="#FFFF00"/>
<rect x="343.73" y="759.85" width="14.02" height="102.1" fill="#FF0000"/>
<rect x="343.73" y="732.86" width="14.02" height="26.99" fill="#7030A0"/>
<rect x="343.73" y="710.3" width="14.02" height="22.56" fill="#A6A6A6"/>
<rect x="343.73" y="706.3" width="14.02" height="4" fill="url(#xp)"/>
<rect x="357.74" y="973.71" width="14.02" height="18.19" fill="#385723"/>
<rect x="357.74" y="935.75" width="14.02" height="37.96" fill="#C55A11"/>
<rect x="357.74" y="916.5" width="14.02" height="19.25" fill="#00B0F0"/>
<rect x="357.74" y="911.5" width="14.02" height="5" fill="#C9C9C9"/>
<rect x="357.74" y="746" width="14.02" height="165.51" fill="#FF0000"/>
<rect x="357.74" y="725.72" width="14.02" height="20.28" fill="#7030A0"/>
<rect x="357.74" y="706.3" width="14.02" height="19.42" fill="#A6A6A6"/>
<rect x="371.76" y="861.1" width="14.02" height="130.8" fill="#C55A11"/>
<rect x="371.76" y="847.1" width="14.02" height="13.99" fill="#00B0F0"/>
<rect x="371.76" y="827.97" width="14.02" height="19.14" fill="#C9C9C9"/>
<rect x="371.76" y="764.56" width="14.02" height="63.4" fill="#FF0000"/>
<rect x="371.76" y="753.42" width="14.02" height="11.14" fill="#7030A0"/>
<rect x="371.76" y="716.01" width="14.02" height="37.41" fill="#A6A6A6"/>
<rect x="371.76" y="706.3" width="14.02" height="9.71" fill="#000000"/>
<rect x="385.77" y="937.78" width="14.02" height="54.12" fill="#C55A11"/>
<rect x="385.77" y="927.07" width="14.02" height="10.71" fill="#00B0F0"/>
<rect x="385.77" y="918.79" width="14.02" height="8.28" fill="#C9C9C9"/>
<rect x="385.77" y="835.11" width="14.02" height="83.68" fill="#FF0000"/>
<rect x="385.77" y="773.27" width="14.02" height="61.83" fill="#7030A0"/>
<rect x="385.77" y="718.87" width="14.02" height="54.41" fill="#A6A6A6"/>
<rect x="385.77" y="706.3" width="14.02" height="12.57" fill="#000000"/>
<rect x="399.79" y="990.47" width="14.02" height="1.43" fill="#C55A11"/>
<rect x="399.79" y="841.1" width="14.02" height="149.37" fill="#FF0000"/>
<rect x="399.79" y="767.99" width="14.02" height="73.11" fill="#7030A0"/>
<rect x="399.79" y="706.3" width="14.02" height="61.69" fill="#A6A6A6"/>
<rect x="413.8" y="952.49" width="14.02" height="39.41" fill="#C55A11"/>
<rect x="413.8" y="853.96" width="14.02" height="98.53" fill="#FF0000"/>
<rect x="413.8" y="797.41" width="14.02" height="56.55" fill="#7030A0"/>
<rect x="413.8" y="706.3" width="14.02" height="91.11" fill="#A6A6A6"/>
<rect x="427.82" y="965.62" width="14.02" height="26.28" fill="#C55A11"/>
<rect x="427.82" y="903.65" width="14.02" height="61.98" fill="#FF0000"/>
<rect x="427.82" y="804.55" width="14.02" height="99.1" fill="#7030A0"/>
<rect x="427.82" y="741.71" width="14.02" height="62.83" fill="#A6A6A6"/>
<rect x="427.82" y="706.3" width="14.02" height="35.41" fill="#000000"/>
<rect x="441.84" y="826.54" width="14.02" height="165.36" fill="#FF0000"/>
<rect x="441.84" y="819.11" width="14.02" height="7.43" fill="#7030A0"/>
<rect x="441.84" y="736" width="14.02" height="83.11" fill="#A6A6A6"/>
<rect x="441.84" y="706.3" width="14.02" height="29.7" fill="#000000"/>
<rect x="455.85" y="973.34" width="14.02" height="18.56" fill="#C9C9C9"/>
<rect x="455.85" y="843.1" width="14.02" height="130.23" fill="#7030A0"/>
<rect x="455.85" y="753.42" width="14.02" height="89.68" fill="#A6A6A6"/>
<rect x="455.85" y="706.3" width="14.02" height="47.12" fill="#000000"/>
<rect x="469.87" y="928.5" width="14.02" height="63.4" fill="#00B0F0"/>
<rect x="469.87" y="787.87" width="14.02" height="140.63" fill="#7030A0"/>
<rect x="469.87" y="752.85" width="14.02" height="35.01" fill="#A6A6A6"/>
<rect x="469.87" y="706.3" width="14.02" height="46.55" fill="#000000"/>
<rect x="483.88" y="989.04" width="14.02" height="2.86" fill="#385723"/>
<rect x="483.88" y="985.05" width="14.02" height="4" fill="#7030A0"/>
<rect x="483.88" y="868.24" width="14.02" height="116.81" fill="#A6A6A6"/>
<rect x="483.88" y="706.3" width="14.02" height="161.94" fill="#000000"/>
<rect x="497.9" y="988.3" width="14.02" height="3.6" fill="#FF0000"/>
<rect x="497.9" y="868.24" width="14.02" height="120.07" fill="#7030A0"/>
<rect x="497.9" y="755.42" width="14.02" height="112.81" fill="#A6A6A6"/>
<rect x="497.9" y="706.3" width="14.02" height="49.12" fill="#000000"/>
<rect x="511.91" y="978.76" width="14.02" height="13.14" fill="#00B0F0"/>
<rect x="511.91" y="797.12" width="14.02" height="181.64" fill="#A6A6A6"/>
<rect x="511.91" y="706.3" width="14.02" height="90.82" fill="#000000"/>
<rect x="525.93" y="976.62" width="14.02" height="15.28" fill="#FFFF00"/>
<rect x="525.93" y="937.78" width="14.02" height="38.84" fill="#FF0000"/>
<rect x="525.93" y="851.67" width="14.02" height="86.11" fill="#7030A0"/>
<rect x="525.93" y="754.85" width="14.02" height="96.82" fill="#A6A6A6"/>
<rect x="525.93" y="706.3" width="14.02" height="48.55" fill="#000000"/>
<rect x="539.94" y="896.91" width="14.02" height="94.99" fill="#7030A0"/>
<rect x="539.94" y="747.57" width="14.02" height="149.34" fill="#A6A6A6"/>
<rect x="539.94" y="706.3" width="14.02" height="41.27" fill="#000000"/>
<rect x="553.96" y="986.84" width="14.02" height="5.06" fill="#00B0F0"/>
<rect x="553.96" y="947.43" width="14.02" height="39.41" fill="#C9C9C9"/>
<rect x="553.96" y="912.96" width="14.02" height="34.47" fill="#FF0000"/>
<rect x="553.96" y="760.71" width="14.02" height="152.25" fill="#A6A6A6"/>
<rect x="553.96" y="706.3" width="14.02" height="54.41" fill="#000000"/>
<rect x="567.98" y="989.04" width="14.02" height="2.86" fill="#7030A0"/>
<rect x="567.98" y="793.69" width="14.02" height="195.35" fill="#A6A6A6"/>
<rect x="567.98" y="706.3" width="14.02" height="87.39" fill="#000000"/>
<rect x="581.99" y="897.08" width="14.02" height="94.82" fill="#00B0F0"/>
<rect x="581.99" y="884.66" width="14.02" height="12.42" fill="#C9C9C9"/>
<rect x="581.99" y="730.58" width="14.02" height="154.08" fill="#A6A6A6"/>
<rect x="581.99" y="706.3" width="14.02" height="24.28" fill="#000000"/>
<rect x="596.01" y="986.33" width="14.02" height="5.57" fill="#00B0F0"/>
<rect x="596.01" y="954.63" width="14.02" height="31.7" fill="#A6A6A6"/>
<rect x="596.01" y="706.3" width="14.02" height="248.33" fill="#000000"/>
<rect x="610.02" y="849.67" width="14.02" height="142.23" fill="#C9C9C9"/>
<rect x="610.02" y="706.3" width="14.02" height="143.37" fill="#000000"/>
<rect x="624.04" y="935.07" width="14.02" height="56.83" fill="#A6A6A6"/>
<rect x="624.04" y="706.3" width="14.02" height="228.77" fill="#000000"/>
<rect x="638.05" y="865.95" width="14.02" height="125.95" fill="#A6A6A6"/>
<rect x="638.05" y="706.3" width="14.02" height="159.65" fill="#000000"/>
<rect x="666.08" y="981.9" width="14.02" height="10" fill="#A6A6A6"/>
<rect x="666.08" y="706.3" width="14.02" height="275.6" fill="#000000"/>
</g>
<g stroke="#404040" stroke-width="1" fill="none">
<line x1="49.4" y1="706.3" x2="680.1" y2="706.3" stroke-width="0.8"/>
<line x1="49.4" y1="705.9" x2="49.4" y2="992.3" stroke-width="1.2"/>
<line x1="49.4" y1="991.9" x2="680.1" y2="991.9"/>
<line x1="46" y1="991.9" x2="49.4" y2="991.9"/>
<line x1="46" y1="963.34" x2="49.4" y2="963.34"/>
<line x1="46" y1="934.78" x2="49.4" y2="934.78"/>
<line x1="46" y1="906.22" x2="49.4" y2="906.22"/>
<line x1="46" y1="877.66" x2="49.4" y2="877.66"/>
<line x1="46" y1="849.1" x2="49.4" y2="849.1"/>
<line x1="46" y1="820.54" x2="49.4" y2="820.54"/>
<line x1="46" y1="791.98" x2="49.4" y2="791.98"/>
<line x1="46" y1="763.42" x2="49.4" y2="763.42"/>
<line x1="46" y1="734.86" x2="49.4" y2="734.86"/>
<line x1="46" y1="706.3" x2="49.4" y2="706.3"/>
</g>
<g stroke="#767676" stroke-width="0.9">
<line x1="49.4" y1="992.4" x2="49.4" y2="996.1"/>
<line x1="63.42" y1="992.4" x2="63.42" y2="996.1"/>
<line x1="77.43" y1="992.4" x2="77.43" y2="996.1"/>
<line x1="91.45" y1="992.4" x2="91.45" y2="996.1"/>
<line x1="105.46" y1="992.4" x2="105.46" y2="996.1"/>
<line x1="119.48" y1="992.4" x2="119.48" y2="996.1"/>
<line x1="133.49" y1="992.4" x2="133.49" y2="996.1"/>
<line x1="147.51" y1="992.4" x2="147.51" y2="996.1"/>
<line x1="161.52" y1="992.4" x2="161.52" y2="996.1"/>
<line x1="175.54" y1="992.4" x2="175.54" y2="996.1"/>
<line x1="189.56" y1="992.4" x2="189.56" y2="996.1"/>
<line x1="203.57" y1="992.4" x2="203.57" y2="996.1"/>
<line x1="217.59" y1="992.4" x2="217.59" y2="996.1"/>
<line x1="231.6" y1="992.4" x2="231.6" y2="996.1"/>
<line x1="245.62" y1="992.4" x2="245.62" y2="996.1"/>
<line x1="259.63" y1="992.4" x2="259.63" y2="996.1"/>
<line x1="273.65" y1="992.4" x2="273.65" y2="996.1"/>
<line x1="287.66" y1="992.4" x2="287.66" y2="996.1"/>
<line x1="301.68" y1="992.4" x2="301.68" y2="996.1"/>
<line x1="315.7" y1="992.4" x2="315.7" y2="996.1"/>
<line x1="329.71" y1="992.4" x2="329.71" y2="996.1"/>
<line x1="343.73" y1="992.4" x2="343.73" y2="996.1"/>
<line x1="357.74" y1="992.4" x2="357.74" y2="996.1"/>
<line x1="371.76" y1="992.4" x2="371.76" y2="996.1"/>
<line x1="385.77" y1="992.4" x2="385.77" y2="996.1"/>
<line x1="399.79" y1="992.4" x2="399.79" y2="996.1"/>
<line x1="413.8" y1="992.4" x2="413.8" y2="996.1"/>
<line x1="427.82" y1="992.4" x2="427.82" y2="996.1"/>
<line x1="441.84" y1="992.4" x2="441.84" y2="996.1"/>
<line x1="455.85" y1="992.4" x2="455.85" y2="996.1"/>
<line x1="469.87" y1="992.4" x2="469.87" y2="996.1"/>
<line x1="483.88" y1="992.4" x2="483.88" y2="996.1"/>
<line x1="497.9" y1="992.4" x2="497.9" y2="996.1"/>
<line x1="511.91" y1="992.4" x2="511.91" y2="996.1"/>
<line x1="525.93" y1="992.4" x2="525.93" y2="996.1"/>
<line x1="539.94" y1="992.4" x2="539.94" y2="996.1"/>
<line x1="553.96" y1="992.4" x2="553.96" y2="996.1"/>
<line x1="567.98" y1="992.4" x2="567.98" y2="996.1"/>
<line x1="581.99" y1="992.4" x2="581.99" y2="996.1"/>
<line x1="596.01" y1="992.4" x2="596.01" y2="996.1"/>
<line x1="610.02" y1="992.4" x2="610.02" y2="996.1"/>
<line x1="624.04" y1="992.4" x2="624.04" y2="996.1"/>
<line x1="638.05" y1="992.4" x2="638.05" y2="996.1"/>
<line x1="652.07" y1="992.4" x2="652.07" y2="996.1"/>
<line x1="666.08" y1="992.4" x2="666.08" y2="996.1"/>
<line x1="680.1" y1="992.4" x2="680.1" y2="996.1"/>
</g>
<g font-size="10.1" text-anchor="end">
<text x="39.5" y="995.4" textLength="13.4" lengthAdjust="spacingAndGlyphs">0.0</text>
<text x="39.5" y="966.84" textLength="13.4" lengthAdjust="spacingAndGlyphs">0.1</text>
<text x="39.5" y="938.28" textLength="13.4" lengthAdjust="spacingAndGlyphs">0.2</text>
<text x="39.5" y="909.72" textLength="13.4" lengthAdjust="spacingAndGlyphs">0.3</text>
<text x="39.5" y="881.16" textLength="13.4" lengthAdjust="spacingAndGlyphs">0.4</text>
<text x="39.5" y="852.6" textLength="13.4" lengthAdjust="spacingAndGlyphs">0.5</text>
<text x="39.5" y="824.04" textLength="13.4" lengthAdjust="spacingAndGlyphs">0.6</text>
<text x="39.5" y="795.48" textLength="13.4" lengthAdjust="spacingAndGlyphs">0.7</text>
<text x="39.5" y="766.92" textLength="13.4" lengthAdjust="spacingAndGlyphs">0.8</text>
<text x="39.5" y="738.36" textLength="13.4" lengthAdjust="spacingAndGlyphs">0.9</text>
<text x="39.5" y="709.8" textLength="13.4" lengthAdjust="spacingAndGlyphs">1.0</text>
</g>
<g font-size="10.1" text-anchor="middle">
<text x="56.41" y="1009.4" textLength="5.5" lengthAdjust="spacingAndGlyphs">6</text>
<text x="70.42" y="1009.4" textLength="5.5" lengthAdjust="spacingAndGlyphs">7</text>
<text x="84.44" y="1009.4" textLength="5.5" lengthAdjust="spacingAndGlyphs">8</text>
<text x="98.45" y="1009.4" textLength="5.5" lengthAdjust="spacingAndGlyphs">9</text>
<text x="112.47" y="1009.4" textLength="11" lengthAdjust="spacingAndGlyphs">10</text>
<text x="126.49" y="1009.4" textLength="11" lengthAdjust="spacingAndGlyphs">11</text>
<text x="140.5" y="1009.4" textLength="11" lengthAdjust="spacingAndGlyphs">12</text>
<text x="154.52" y="1009.4" textLength="11" lengthAdjust="spacingAndGlyphs">13</text>
<text x="168.53" y="1009.4" textLength="11" lengthAdjust="spacingAndGlyphs">14</text>
<text x="182.55" y="1009.4" textLength="11" lengthAdjust="spacingAndGlyphs">15</text>
<text x="196.56" y="1009.4" textLength="11" lengthAdjust="spacingAndGlyphs">16</text>
<text x="210.58" y="1009.4" textLength="11" lengthAdjust="spacingAndGlyphs">17</text>
<text x="224.59" y="1009.4" textLength="11" lengthAdjust="spacingAndGlyphs">18</text>
<text x="238.61" y="1009.4" textLength="11" lengthAdjust="spacingAndGlyphs">19</text>
<text x="252.63" y="1009.4" textLength="11" lengthAdjust="spacingAndGlyphs">20</text>
<text x="266.64" y="1009.4" textLength="11" lengthAdjust="spacingAndGlyphs">21</text>
<text x="280.66" y="1009.4" textLength="11" lengthAdjust="spacingAndGlyphs">22</text>
<text x="294.67" y="1009.4" textLength="11" lengthAdjust="spacingAndGlyphs">23</text>
<text x="308.69" y="1009.4" textLength="11" lengthAdjust="spacingAndGlyphs">24</text>
<text x="322.7" y="1009.4" textLength="11" lengthAdjust="spacingAndGlyphs">25</text>
<text x="336.72" y="1009.4" textLength="11" lengthAdjust="spacingAndGlyphs">26</text>
<text x="350.73" y="1009.4" textLength="11" lengthAdjust="spacingAndGlyphs">27</text>
<text x="364.75" y="1009.4" textLength="11" lengthAdjust="spacingAndGlyphs">28</text>
<text x="378.77" y="1009.4" textLength="11" lengthAdjust="spacingAndGlyphs">29</text>
<text x="392.78" y="1009.4" textLength="11" lengthAdjust="spacingAndGlyphs">30</text>
<text x="406.8" y="1009.4" textLength="11" lengthAdjust="spacingAndGlyphs">31</text>
<text x="420.81" y="1009.4" textLength="11" lengthAdjust="spacingAndGlyphs">32</text>
<text x="434.83" y="1009.4" textLength="11" lengthAdjust="spacingAndGlyphs">33</text>
<text x="448.84" y="1009.4" textLength="11" lengthAdjust="spacingAndGlyphs">34</text>
<text x="462.86" y="1009.4" textLength="11" lengthAdjust="spacingAndGlyphs">35</text>
<text x="476.87" y="1009.4" textLength="11" lengthAdjust="spacingAndGlyphs">36</text>
<text x="490.89" y="1009.4" textLength="11" lengthAdjust="spacingAndGlyphs">37</text>
<text x="504.91" y="1009.4" textLength="11" lengthAdjust="spacingAndGlyphs">38</text>
<text x="518.92" y="1009.4" textLength="11" lengthAdjust="spacingAndGlyphs">39</text>
<text x="532.94" y="1009.4" textLength="11" lengthAdjust="spacingAndGlyphs">40</text>
<text x="546.95" y="1009.4" textLength="11" lengthAdjust="spacingAndGlyphs">41</text>
<text x="560.97" y="1009.4" textLength="11" lengthAdjust="spacingAndGlyphs">42</text>
<text x="574.98" y="1009.4" textLength="11" lengthAdjust="spacingAndGlyphs">43</text>
<text x="589" y="1009.4" textLength="11" lengthAdjust="spacingAndGlyphs">44</text>
<text x="603.01" y="1009.4" textLength="11" lengthAdjust="spacingAndGlyphs">45</text>
<text x="617.03" y="1009.4" textLength="11" lengthAdjust="spacingAndGlyphs">46</text>
<text x="631.05" y="1009.4" textLength="11" lengthAdjust="spacingAndGlyphs">47</text>
<text x="645.06" y="1009.4" textLength="11" lengthAdjust="spacingAndGlyphs">48</text>
<text x="659.08" y="1009.4" textLength="11" lengthAdjust="spacingAndGlyphs">49</text>
<text x="673.09" y="1009.4" textLength="11" lengthAdjust="spacingAndGlyphs">50</text>
</g>
<text x="365.25" y="1031.6" font-size="16.6" text-anchor="middle" textLength="159" lengthAdjust="spacingAndGlyphs">Salp OA length (mm)</text>
<text transform="translate(21.3,849.5) rotate(-90)" font-size="16.8" text-anchor="middle" textLength="84.1" lengthAdjust="spacingAndGlyphs">Proportion</text>
<text x="55.2" y="980.9" font-size="21.5" font-weight="bold" style="fill:#000;stroke:#000;stroke-width:0.7;stroke-linejoin:round" textLength="13.4" lengthAdjust="spacingAndGlyphs">C</text>
<g shape-rendering="crispEdges">
<rect x="71.8" y="1054.2" width="8.2" height="8.4" fill="#92D050"/>
<rect x="106" y="1054.2" width="8.2" height="8.4" fill="#548235"/>
<rect x="139.3" y="1054.2" width="8.2" height="8.4" fill="#385723"/>
<rect x="172.1" y="1054.2" width="8.2" height="8.4" fill="#C55A11"/>
<rect x="205" y="1054.2" width="8.2" height="8.4" fill="#00B0F0"/>
<rect x="238.7" y="1054.2" width="8.2" height="8.4" fill="#C9C9C9"/>
<rect x="303.1" y="1054.2" width="8.2" height="8.4" fill="#FFFF00"/>
<rect x="357.5" y="1054.2" width="8.2" height="8.4" fill="#FF0000"/>
<rect x="412.7" y="1054.2" width="8.2" height="8.4" fill="#7030A0"/>
<rect x="467.9" y="1054.2" width="8.2" height="8.4" fill="#A6A6A6"/>
<rect x="552" y="1054.2" width="8.2" height="8.4" fill="#000000"/>
<rect x="591.4" y="1054.2" width="8.2" height="8.4" fill="url(#xp)"/>
</g>
<g font-size="13.5">
<text x="85.4" y="1063.2" textLength="7.9" lengthAdjust="spacingAndGlyphs">0</text>
<text x="119.6" y="1063.2" textLength="6.1" lengthAdjust="spacingAndGlyphs">1</text>
<text x="152" y="1063.2" textLength="7" lengthAdjust="spacingAndGlyphs">2</text>
<text x="185.3" y="1063.2" textLength="7" lengthAdjust="spacingAndGlyphs">3</text>
<text x="218.1" y="1063.2" textLength="7.5" lengthAdjust="spacingAndGlyphs">4</text>
<text x="251.4" y="1063.2" textLength="37.2" lengthAdjust="spacingAndGlyphs">Spent</text>
<text x="315.8" y="1063.2" textLength="28" lengthAdjust="spacingAndGlyphs">2, M</text>
<text x="369.8" y="1063.2" textLength="28.5" lengthAdjust="spacingAndGlyphs">3, M</text>
<text x="425" y="1063.2" textLength="28.9" lengthAdjust="spacingAndGlyphs">4, M</text>
<text x="480.6" y="1063.2" textLength="58.7" lengthAdjust="spacingAndGlyphs">Spent, M</text>
<text x="565.1" y="1063.2" textLength="13.2" lengthAdjust="spacingAndGlyphs">M</text>
<text x="604.1" y="1063.2" textLength="8.3" lengthAdjust="spacingAndGlyphs">X</text>
</g>
</svg></body></html>
